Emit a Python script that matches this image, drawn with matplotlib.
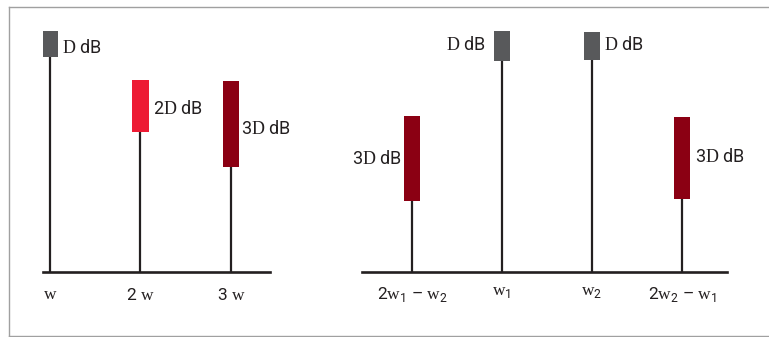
import matplotlib
matplotlib.use("Agg")
import matplotlib.pyplot as plt
from matplotlib.lines import Line2D

# single tone: harmonics
harm_labels = ["$\\mathrm{w}$", "2 $\\mathrm{w}$", "3 $\\mathrm{w}$"]
harm_bottom = [215, 140, 105]
harm_top = [241, 192, 191]
harm_text = ["$\\mathrm{D}$ dB", "2$\\mathrm{D}$ dB", "3$\\mathrm{D}$ dB"]
harm_colors = ["#58595b", "#ed1b34", "#8b0013"]

# two tones: intermod products
im_labels = ["2$\\mathrm{w}_{\\mathsf{1}}$ \u2013 $\\mathrm{w}_{\\mathsf{2}}$",
             "$\\mathrm{w}_{\\mathsf{1}}$", "$\\mathrm{w}_{\\mathsf{2}}$",
             "2$\\mathrm{w}_{\\mathsf{2}}$ \u2013 $\\mathrm{w}_{\\mathsf{1}}$"]
im_bottom = [71, 211, 212, 73]
im_top = [156, 241, 240, 155]
im_text = ["3$\\mathrm{D}$ dB", "$\\mathrm{D}$ dB", "$\\mathrm{D}$ dB", "3$\\mathrm{D}$ dB"]
im_colors = ["#8b0013", "#58595b", "#58595b", "#8b0013"]
im_side = ["left", "left", "right", "right"]

INK = "#231f20"
plt.rcParams["font.family"] = ["Roboto", "DejaVu Sans"]
plt.rcParams["mathtext.fontset"] = "custom"
plt.rcParams["mathtext.rm"] = "Liberation Serif"
plt.rcParams["mathtext.sf"] = "Roboto"

W, H = 769, 337
fig = plt.figure(figsize=(W / 100, H / 100), dpi=100)


def px_axes(x0, x1, y_base, y_top):
    return fig.add_axes([x0 / W, (H - y_base) / H, (x1 - x0) / W, (y_base - y_top) / H])


def draw_panel(ax, labels, bottoms, tops, texts, colors, sides, offsets, pad):
    xs = list(range(len(labels)))
    bw = 0.178
    ax.vlines(xs, 0, bottoms, color=INK, lw=1.6, zorder=2)
    ax.bar(xs, [t - b for b, t in zip(bottoms, tops)], bottom=bottoms, width=bw,
           color=colors, zorder=3)
    for x, b, t, s, side, (dx, dy) in zip(xs, bottoms, tops, texts, sides, offsets):
        xe = x + bw / 2 if side == "right" else x - bw / 2
        ax.annotate(s, (xe, (b + t) / 2), xytext=(dx, dy), textcoords="offset points",
                    ha="left" if side == "right" else "right", va="center",
                    fontsize=13, color=INK)
    ax.set_ylim(0, 252)
    ax.set_xticks(xs, labels)
    ax.tick_params(axis="x", length=0, pad=pad, labelsize=12.5, labelcolor=INK)
    ax.set_yticks([])
    for k in ("top", "left", "right"):
        ax.spines[k].set_visible(False)
    ax.spines["bottom"].set_linewidth(1.9)
    ax.spines["bottom"].set_color(INK)
    ax.patch.set_alpha(0)


ax1 = px_axes(43, 270, 272, 20)
ax1.set_xlim(-0.077, 2.431)
draw_panel(ax1, harm_labels, harm_bottom, harm_top, harm_text, harm_colors,
           ["right"] * 3, [(3, -3), (3, -2), (1.5, -3.5)], 11)

ax2 = px_axes(362, 727, 272, 20)
ax2.set_xlim(-0.556, 3.5)
draw_panel(ax2, im_labels, im_bottom, im_top, im_text, im_colors,
           im_side, [(-1.5, 0), (-6, 1), (3, 1), (3.5, 1)], 9)

# grey frame around the figure
fc = "#a0a0a0"
fig.add_artist(Line2D([9 / W, 9 / W], [1 - 7 / H, 1 - 335.5 / H], color=fc, lw=1))
fig.add_artist(Line2D([9 / W, 1], [1 - 7 / H, 1 - 7 / H], color=fc, lw=1))
fig.add_artist(Line2D([9 / W, 1], [1 - 335.5 / H, 1 - 335.5 / H], color=fc, lw=1))

fig.savefig("out.png", dpi=100)
